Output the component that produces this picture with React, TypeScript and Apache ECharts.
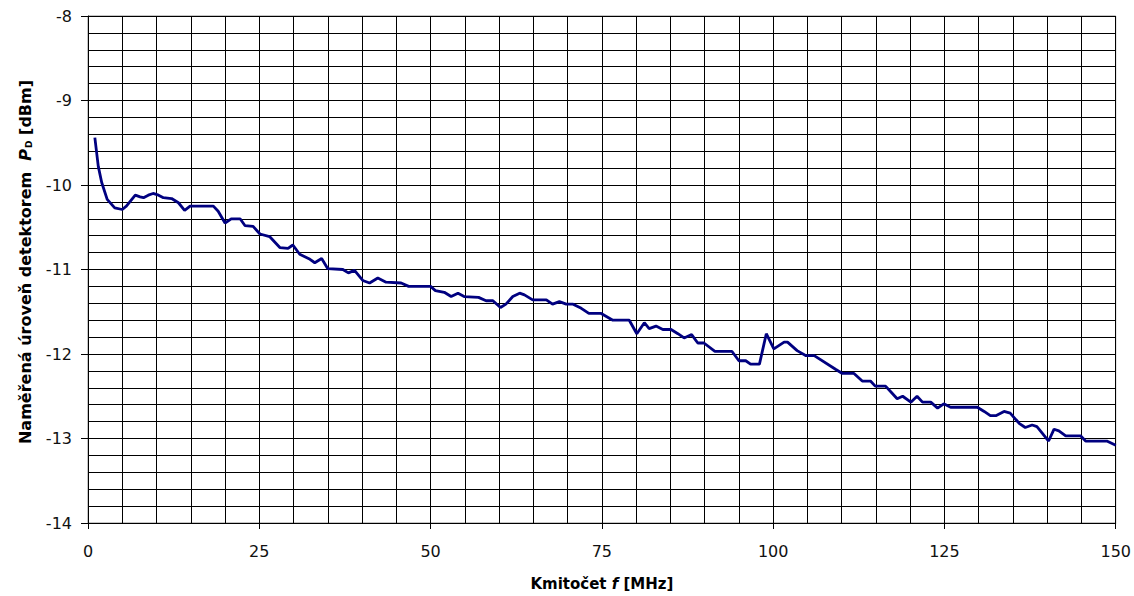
import React, { useEffect, useRef } from "react";
import * as echarts from "echarts";

const freqMHz: number[] = [
  1.0, 1.5, 2.0, 2.8, 3.9, 5.0, 5.6, 6.9, 7.6, 8.1, 8.8, 9.5, 10.3, 11.0, 12.2, 13.2, 14.1, 14.9,
  18.3, 19.0, 20.0, 20.9, 22.2, 22.9, 24.1, 25.1, 26.5, 28.0, 29.2, 29.9, 30.9, 32.4, 33.1, 34.1,
  35.0, 37.2, 38.0, 38.9, 40.1, 41.1, 42.3, 43.5, 45.7, 46.8, 50.0, 50.7, 52.0, 53.0, 54.0, 54.9,
  57.0, 58.1, 59.1, 60.2, 61.0, 62.0, 63.0, 63.7, 64.9, 66.9, 67.8, 68.8, 69.8, 70.8, 72.0, 73.1,
  74.9, 76.6, 79.0, 80.1, 81.2, 81.9, 82.9, 83.9, 85.1, 86.1, 87.0, 88.1, 89.0, 89.9, 91.5, 94.0,
  95.0, 96.0, 96.7, 98.0, 99.0, 100.1, 101.6, 102.1, 103.5, 104.8, 106.0, 109.1, 110.1, 111.8,
  113.0, 114.2, 114.9, 116.4, 117.2, 118.1, 118.9, 120.1, 121.0, 121.8, 123.0, 124.0, 124.9,
  125.9, 129.8, 130.8, 131.7, 132.5, 133.7, 134.6, 135.9, 136.8, 137.8, 138.5, 139.3, 140.2,
  141.0, 141.7, 142.7, 144.9, 145.6, 148.7, 150.0,
];

const levelDbm: number[] = [
  -9.44, -9.78, -9.97, -10.17, -10.27, -10.29, -10.25, -10.12, -10.14, -10.15, -10.12, -10.1,
  -10.12, -10.15, -10.16, -10.21, -10.3, -10.25, -10.25, -10.31, -10.45, -10.4, -10.4, -10.48,
  -10.49, -10.58, -10.61, -10.74, -10.75, -10.71, -10.82, -10.88, -10.92, -10.87, -10.99, -11.0,
  -11.04, -11.01, -11.13, -11.16, -11.1, -11.15, -11.16, -11.2, -11.2, -11.25, -11.27, -11.32,
  -11.28, -11.32, -11.33, -11.37, -11.37, -11.45, -11.41, -11.32, -11.28, -11.3, -11.36, -11.36,
  -11.41, -11.38, -11.41, -11.41, -11.46, -11.52, -11.52, -11.6, -11.6, -11.76, -11.63, -11.7,
  -11.67, -11.71, -11.71, -11.76, -11.81, -11.77, -11.87, -11.87, -11.97, -11.97, -12.08, -12.08,
  -12.12, -12.12, -11.76, -11.94, -11.86, -11.86, -11.96, -12.02, -12.02, -12.18, -12.23, -12.23,
  -12.32, -12.32, -12.38, -12.38, -12.45, -12.53, -12.5, -12.57, -12.5, -12.57, -12.57, -12.64,
  -12.59, -12.63, -12.63, -12.68, -12.73, -12.73, -12.68, -12.7, -12.82, -12.87, -12.84, -12.86,
  -12.94, -13.03, -12.89, -12.91, -12.97, -12.97, -13.03, -13.03, -13.08,
];

const xTicks = { min: 0, max: 150, step: 25, minorSplit: 5 };
const yTicks = { min: -14, max: -8, step: 1, minorSplit: 5 };

const xTitle = "{b|Kmitočet }{bi|f}{b| [MHz]}";
const yTitle = "{b|Naměřená úroveň detektorem  }{bi|P}{sub|D}{b| [dBm]}";

const FONT = "DejaVu Sans";

export default function App() {
  const ref = useRef<HTMLDivElement>(null);

  useEffect(() => {
    if (!ref.current) return;
    const chart = echarts.init(ref.current, undefined, { renderer: "svg" });
    const gridColor = "#000";
    const mkRich = (size: number) => ({
      b: { fontFamily: FONT, fontWeight: "bold", fontSize: size, color: "#000" },
      bi: { fontFamily: FONT, fontWeight: "bold", fontStyle: "italic", fontSize: size, color: "#000" },
      sub: { fontFamily: FONT, fontWeight: "bold", fontSize: 9, color: "#000", padding: [8, 0, 0, 1] },
    });
    chart.setOption({
      animation: false,
      backgroundColor: "#fff",
      grid: {
        left: 88,
        right: 17,
        top: 16,
        bottom: 72,
        show: true,
        borderColor: "#8c8c8c",
        borderWidth: 1,
        backgroundColor: "#fff",
      },
      xAxis: {
        type: "value",
        min: xTicks.min,
        max: xTicks.max,
        interval: xTicks.step,
        name: xTitle,
        nameLocation: "middle",
        nameGap: 53,
        nameTextStyle: { rich: mkRich(15) },
        axisLine: { show: true, lineStyle: { color: "#000", width: 1 } },
        axisTick: { show: true, length: 6, inside: false, lineStyle: { color: "#000" } },
        axisLabel: { fontFamily: FONT, fontSize: 16, color: "#111", margin: 20 },
        splitLine: { show: true, lineStyle: { color: gridColor, width: 1 } },
        minorTick: { show: false, splitNumber: xTicks.minorSplit },
        minorSplitLine: { show: true, lineStyle: { color: gridColor, width: 1 } },
      },
      yAxis: {
        type: "value",
        min: yTicks.min,
        max: yTicks.max,
        interval: yTicks.step,
        axisLine: { show: true, lineStyle: { color: "#000", width: 1 } },
        axisTick: { show: true, length: 7, inside: false, lineStyle: { color: "#000" } },
        axisLabel: { fontFamily: FONT, fontSize: 16, color: "#111", margin: 16 },
        splitLine: { show: true, lineStyle: { color: gridColor, width: 1 } },
        minorTick: { show: false, splitNumber: yTicks.minorSplit },
        minorSplitLine: { show: true, lineStyle: { color: gridColor, width: 1 } },
      },
      graphic: [
        {
          type: "text",
          x: 25,
          y: 262,
          rotation: Math.PI / 2,
          style: {
            text: yTitle,
            rich: mkRich(16),
            align: "center",
            verticalAlign: "middle",
          },
          z: 10,
        },
      ],
      series: [
        {
          type: "line",
          data: freqMHz.map((f, i) => [f, levelDbm[i]]),
          showSymbol: false,
          symbol: "none",
          lineStyle: { color: "#000080", width: 2.8 },
          z: 5,
        },
      ],
    });
    return () => chart.dispose();
  }, []);

  return (
    <div
      ref={ref}
      style={{ position: "fixed", left: 0, top: 0, width: 1134, height: 596, background: "#fff" }}
    />
  );
}
